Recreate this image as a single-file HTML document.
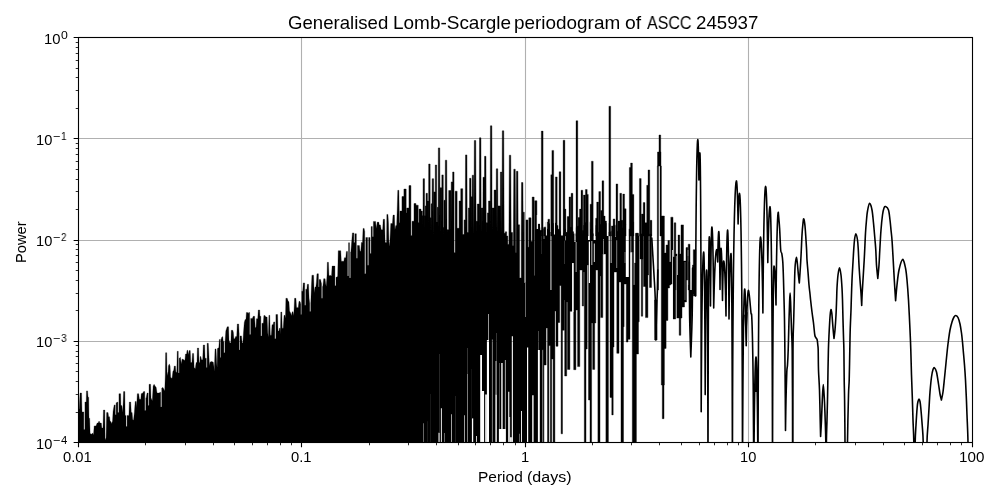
<!DOCTYPE html>
<html><head><meta charset="utf-8"><title>Generalised Lomb-Scargle periodogram</title><style>html,body{margin:0;padding:0;background:#fff}
body{width:1000px;height:500px;position:relative;overflow:hidden;font-family:"Liberation Sans",sans-serif;color:#000}
.t{position:absolute;white-space:pre;line-height:1;transform-origin:0 0;will-change:transform}
</style></head><body><svg width="1000" height="500" viewBox="0 0 1000 500" style="position:absolute;left:0;top:0"><defs><clipPath id="ax"><rect x="78.5" y="37.5" width="894" height="405"/></clipPath><mask id="gm" maskUnits="userSpaceOnUse" x="0" y="0" width="1000" height="500"><rect x="0" y="0" width="1000" height="500" fill="#fff"/><path d="M423.1 423.3H423.9V442.5H423.1Z" fill="rgb(128,128,128)"/><path d="M427 421.2H427.6V442.5H427Z" fill="rgb(217,217,217)"/><path d="M430.2 393.9H430.8V442.5H430.2Z" fill="rgb(217,217,217)"/><path d="M438.5 432.7H439.6V442.5H438.5Z" fill="rgb(0,0,0)"/><path d="M439.2 354H439.8V432.7H439.2Z" fill="rgb(191,191,191)"/><path d="M440.9 408.3H441.9V442.5H440.9Z" fill="rgb(25,25,25)"/><path d="M444.1 433H444.9V442.5H444.1Z" fill="rgb(128,128,128)"/><path d="M451 414.2H451.9V442.5H451Z" fill="rgb(77,77,77)"/><path d="M455.1 396H455.7V442.5H455.1Z" fill="rgb(204,204,204)"/><path d="M464 415.3H464.9V442.5H464Z" fill="rgb(77,77,77)"/><path d="M467.1 348H467.9V374H467.1Z" fill="rgb(191,191,191)"/><path d="M467.1 374H467.9V442.5H467.1Z" fill="rgb(102,102,102)"/><path d="M471.9 418.4H473.2V442.5H471.9Z" fill="rgb(0,0,0)"/><path d="M471.2 369H471.7V418H471.2Z" fill="rgb(217,217,217)"/><path d="M476 436H476.8V442.5H476Z" fill="rgb(0,0,0)"/><path d="M480.2 355H482V442.5H480.2Z" fill="rgb(0,0,0)"/><path d="M482 391H484.1V442.5H482Z" fill="rgb(0,0,0)"/><path d="M485.2 394.6H486.9V442.5H485.2Z" fill="rgb(0,0,0)"/><path d="M486.9 340H489V442.5H486.9Z" fill="rgb(0,0,0)"/><path d="M488.2 314H488.8V340H488.2Z" fill="rgb(0,0,0)"/><path d="M491.9 339.4H492.8V442.5H491.9Z" fill="rgb(115,115,115)"/><path d="M495.4 361H496.8V394.6H495.4Z" fill="rgb(102,102,102)"/><path d="M495.4 394.6H496.8V442.5H495.4Z" fill="rgb(0,0,0)"/><path d="M496.3 333H496.9V361H496.3Z" fill="rgb(166,166,166)"/><path d="M499.4 363H500V429H499.4Z" fill="rgb(128,128,128)"/><path d="M501.1 363H502.8V429H501.1Z" fill="rgb(51,51,51)"/><path d="M504.9 360H505.7V429H504.9Z" fill="rgb(51,51,51)"/><path d="M498.9 429H505.9V442.5H498.9Z" fill="rgb(0,0,0)"/><path d="M508.2 391.8H509.3V442.5H508.2Z" fill="rgb(0,0,0)"/><path d="M509.3 417H510.1V442.5H509.3Z" fill="rgb(0,0,0)"/><path d="M510.1 437.3H511.8V442.5H510.1Z" fill="rgb(0,0,0)"/><path d="M511.8 336.3H512.9V442.5H511.8Z" fill="rgb(0,0,0)"/><path d="M519.1 433.8H519.9V442.5H519.1Z" fill="rgb(128,128,128)"/><path d="M521 411.1H521.9V442.5H521Z" fill="rgb(0,0,0)"/><path d="M525 283H525.6V317H525Z" fill="rgb(0,0,0)"/><path d="M527 347.5H528.2V442.5H527Z" fill="rgb(0,0,0)"/><path d="M532.2 395.3H533.6V442.5H532.2Z" fill="rgb(0,0,0)"/><path d="M537.9 350H539.8V442.5H537.9Z" fill="rgb(0,0,0)"/><path d="M538.3 331H539V350H538.3Z" fill="rgb(153,153,153)"/><path d="M672.2 250H673V442.5H672.2Z" fill="rgb(25,25,25)"/><path d="M675.9 256H676.6V442.5H675.9Z" fill="rgb(51,51,51)"/><path d="M677 235H677.8V275H677Z" fill="rgb(51,51,51)"/><path d="M687.7 250H688.3V285H687.7Z" fill="rgb(77,77,77)"/><path d="M684.6 262H685.4V300H684.6Z" fill="rgb(128,128,128)"/><path d="M536.8 215H537.8V229H536.8Z" fill="rgb(0,0,0)"/><path d="M540 215H541V227.5H540Z" fill="rgb(0,0,0)"/><path d="M545.7 215H546.9V235.5H545.7Z" fill="rgb(0,0,0)"/><path d="M550 215H551.5V232.5H550Z" fill="rgb(0,0,0)"/><path d="M553.8 215H555V234.5H553.8Z" fill="rgb(0,0,0)"/><path d="M560.9 215H563V235.5H560.9Z" fill="rgb(0,0,0)"/><path d="M565.9 215H567.2V232H565.9Z" fill="rgb(0,0,0)"/><path d="M574.2 215H575.8V228H574.2Z" fill="rgb(0,0,0)"/><path d="M588 215H589.8V240H588Z" fill="rgb(0,0,0)"/><path d="M593.6 215H595.6V240H593.6Z" fill="rgb(0,0,0)"/><path d="M606.5 215H608.4V236H606.5Z" fill="rgb(0,0,0)"/><path d="M608.4 215H609V232H608.4Z" fill="rgb(0,0,0)"/><path d="M610.7 215H610.1V232H610.7Z" fill="rgb(0,0,0)"/><path d="M597.8 215H598.8V232.5H597.8Z" fill="rgb(128,128,128)"/><path d="M615 215H616V237H615Z" fill="rgb(128,128,128)"/><path d="M550 232H551.8V290H550Z" fill="rgb(128,128,128)"/><path d="M541.2 232H541.8V254H541.2Z" fill="rgb(191,191,191)"/><path d="M543.5 225H544.5V239H543.5Z" fill="rgb(128,128,128)"/><path d="M565 232H566V240.5H565Z" fill="rgb(128,128,128)"/><path d="M564 240.5H565V264H564Z" fill="rgb(204,204,204)"/><path d="M574.2 225H575.8V242H574.2Z" fill="rgb(77,77,77)"/><path d="M575.5 242H576.8V272H575.5Z" fill="rgb(128,128,128)"/><path d="M572 263H573.7V312H572Z" fill="rgb(77,77,77)"/><path d="M588.8 241.5H590V283H588.8Z" fill="rgb(0,0,0)"/><path d="M591 241H592.5V265H591Z" fill="rgb(128,128,128)"/><path d="M593.8 243.5H595V262H593.8Z" fill="rgb(77,77,77)"/><path d="M603 239H604V254H603Z" fill="rgb(128,128,128)"/><path d="M610.5 225H612V263H610.5Z" fill="rgb(128,128,128)"/><path d="M616.2 240H617.2V268H616.2Z" fill="rgb(128,128,128)"/><path d="M624.5 252H625.5V263H624.5Z" fill="rgb(153,153,153)"/><path d="M625.8 225H628.8V277H625.8Z" fill="rgb(0,0,0)"/><path d="M630 225H631.5V252H630Z" fill="rgb(153,153,153)"/></mask></defs><rect x="0" y="0" width="1000" height="500" fill="#fff"/><path d="M301.5 37.5V442.5M525.5 37.5V442.5M748.5 37.5V442.5M78.5 138.5H972.5M78.5 240.5H972.5M78.5 341.5H972.5" stroke="#b0b0b0" stroke-width="1.11" fill="none"/><g clip-path="url(#ax)"><path d="M78.5 444.5L78.08 409.1L79.2 409.1L80.04 393L81.58 393L82 411.9L83.68 411.9L83.83 411.9L83.83 429.4L84.93 429.4L84.93 402.1L85.08 402.1L86.2 402.1L86.48 390.9L87.6 390.9L88.02 397.2L88.72 397.2L89 418.2L89.7 418.2L90.12 433.6L91.52 434.3L92.64 432.9L93.48 435L94.18 425.9L96 425.9L97.12 423.1L98.1 423.1L99.08 421L99.92 423.1L101.32 423.1L101.88 428L103 428L103.42 410.08L104.82 410.08L105.1 439.9L106.08 437.8L106.64 412.6L108.04 412.6L108.6 416.8L109.58 416.8L110 421L110.98 421.7L111.68 423.8L112.52 421L113.08 411.2L114.2 404.9L115.18 404.9L115.23 404.9L115.23 414.7L116.15 414.7L116.15 402.8L116.3 402.8L117.7 402.1L117.85 402.1L117.85 412.6L118.95 412.6L118.95 393.7L119.1 393.7L120.64 393.7L120.92 405.6L121.9 405.6L122.32 412.6L123.02 405.6L123.58 391.6L124.84 391.6L125.12 415.4L125.96 415.4L126.01 415.4L126.01 426.6L127.07 426.6L127.07 415.4L127.22 415.4L128.9 415.4L129.32 402.1L130.72 402.1L131.28 412.6L132.12 412.6L132.68 419.6L133.52 420.3L134.36 412.6L135.2 401.4L136.18 401.4L136.6 407.7L137.3 393.7L138.7 393.7L139.4 399.3L140.8 399.3L141.22 393.7L142.9 393L143.6 391.6L144.72 391.6L144.77 391.6L144.77 410.5L145.83 410.5L145.83 397.9L146.12 397.9L147.1 393L148.08 393L148.13 393L148.13 405.6L149.05 405.6L149.05 384.32L149.2 384.32L150.6 384.32L151.02 397.9L152.28 400.7L153.12 386L154.1 384.32L155.08 386L156.2 387.4L157.04 393L159 393L160.4 392.3L160.69 392.3L160.69 407L161.75 407L161.75 388.1L161.8 388.1L162.92 387.4L164.04 389.5L164.74 390.9L165.3 374.8L165.6 352.7L166.72 352.7L167 371.6L167.84 375.8L168.4 366L169.24 363.9L170.08 366L170.64 377.2L172.04 378.6L172.88 371.6L173.72 370.2L174.28 366L175.4 366L175.96 372.3L176.8 372.3L177.22 351.3L178.2 351.3L178.25 351.3L178.25 373L179.17 373L179.17 358.3L179.32 358.3L180.44 357.32L181.28 363.9L182.12 359L183.8 359.7L184.92 360.4L185.48 354.1L186.6 354.1L187.02 350.32L187.72 350.32L188.42 354.8L189.12 350.6L190.24 350.6L190.8 362.5L191.92 362.5L192.48 353.4L193.6 353.4L194.16 367.4L195.28 368.8L196.12 362.5L196.96 362.5L197.38 348.08L198.64 348.08L199.06 362.5L199.76 362.5L200.18 356.62L200.88 356.62L201.44 359.7L202.7 359.7L203.26 345L204.66 345L205.08 358.3L206.2 358.3L206.25 358.3L206.25 367.4L207.13 367.4L207.13 343.32L207.18 343.32L208.3 343.32L208.72 350.6L209.42 366L209.98 362.5L210.96 361.52L213.2 362.08L213.9 366L214.32 371.6L215.02 348.92L216 348.92L216.7 363.2L217.12 367.4L217.4 348.5L218.8 347.8L219.36 339.4L220.2 339.4L220.25 339.4L220.25 357.6L220.99 357.6L220.99 339.4L221.04 339.4L221.74 337.3L222.72 336.6L223.28 341.5L223.84 341.5L223.89 341.5L223.89 352.7L224.95 352.7L224.95 341.5L225.1 341.5L225.8 331L227.2 326.8L228.6 326.8L229.02 340.1L230 342.9L230.84 342.9L231.26 330.3L232.8 330.3L233.36 332.4L233.92 338.7L234.9 338.7L235.6 336.6L236.72 336.6L237.28 324L238.68 324L239.1 333.1L239.15 333.1L239.15 349.9L240.03 349.9L240.03 335.9L240.08 335.9L241.48 335.9L242.18 342.9L242.88 342.9L243.44 333.1L244.28 322.6L245.12 319.52L245.96 319.52L246.38 312.52L247.64 312.52L248.2 313.5L248.76 312.52L249.6 312.52L249.65 312.52L249.65 334.5L250.71 334.5L250.71 318.4L251 318.4L252.4 318.4L253.24 316.3L254.64 316.3L255.2 327.5L256.04 327.5L256.46 318.68L257.72 318.68L258.28 310L259.68 310L259.96 316.3L260.8 316.3L260.85 316.3L260.85 335.9L261.91 335.9L261.91 323.3L262.2 323.3L263.32 323.3L263.88 315.6L265 315.6L265.84 317L267.1 317L267.8 333.1L268.36 337.3L268.92 315.32L269.76 315.32L270.32 335.2L271.3 335.2L272 324.7L273.12 324.7L273.68 321.9L274.52 321.9L274.81 321.9L274.81 338.7L275.91 338.7L275.91 314.48L276.2 314.48L277.6 314.48L278.02 331L279 331L279.42 328.2L280.12 328.2L280.4 334.5L280.82 312.1L281.8 312.1L282.22 328.2L283.2 328.2L284.04 315.32L284.88 315.32L285.44 318.4L285.88 298.3L287.28 298.3L288.12 301.1L288.96 301.8L289.52 310.9L290.64 313L291.48 315.8L292.04 312.3L292.88 311.6L293.44 315.8L294 310.9L294.56 298.3L295.96 298.3L296.52 307.4L298.2 307.68L299.04 301.1L300.16 301.8L300.72 303.9L300.77 303.9L300.77 314.4L301.79 314.4L301.79 291.3L301.84 291.3L302.68 291.3L303.24 282.9L304.64 282.9L304.69 282.9L304.69 305.3L305.75 305.3L305.75 289.2L306.04 289.2L306.88 289.2L307.3 284.3L308.56 284.3L309.12 298.3L309.68 303.2L309.73 303.2L309.73 311.6L310.75 311.6L310.75 302.5L310.8 302.5L311.36 287.1L311.92 275.2L313.6 275.2L314.16 292.7L315 287.1L315.84 287.1L316.4 282.2L316.96 273.8L318.36 273.8L318.41 273.8L318.41 287.1L319.15 287.1L319.15 279.4L319.2 279.4L320.6 279.4L321.44 283.6L321.49 283.6L321.49 298.3L322.55 298.3L322.55 286.4L322.84 286.4L323.68 278.7L325.08 278.7L325.64 283.6L326.2 286.4L327.04 275.2L327.32 262.32L328.44 262.32L329 275.9L330.12 275.2L331.52 275.9L332.08 266.1L334.88 266.1L334.93 266.1L334.93 285.7L335.99 285.7L335.99 277.3L336.28 277.3L337.68 276.6L338.24 250.7L340.76 250.7L341.32 261.2L343.84 261.2L344.4 257.7L345.8 257.7L346.36 251.4L347.48 251.4L347.53 251.4L347.53 275.9L348.55 275.9L348.55 242.7L348.6 242.7L349.44 242.7L349.49 242.7L349.49 278L350.55 278L350.55 252.1L350.84 252.1L352.4 232.88L353.8 232.88L353.85 232.88L353.85 242.4L354.87 242.4L354.87 233.72L354.92 233.72L356.32 233.72L356.37 233.72L356.37 258.36L357.43 258.36L357.43 245.48L358 245.48L359.4 245.48L359.96 250.8L360.8 251.5L361.36 242.4L362.48 242.4L363.04 228.4L364.16 228.4L364.58 231.2L364.73 231.2L364.73 273.76L365.83 273.76L365.83 237.5L366.12 237.5L367.52 237.5L367.57 237.5L367.57 265.36L368.63 265.36L368.63 237.5L368.92 237.5L370.04 237.5L370.09 237.5L370.09 253.46L371.11 253.46L371.11 226.58L371.16 226.58L372.28 226.58L372.33 226.58L372.33 236.8L373.39 236.8L373.39 221.4L373.96 221.4L375.64 221.4L376.2 228.4L377.32 222.1L378.72 222.1L379.28 224.9L380.4 224.9L381.24 229.8L382.64 229.8L383.2 219.3L384.6 219.3L385.16 242.4L386.56 242.4L386.84 214.4L387.96 214.4L388.52 223.5L389.08 246.6L389.92 241L390.76 223.5L392.44 223.5L393 215.1L394.4 215.1L394.96 229.8L395.8 225.6L396.64 225.6L397.2 209.5L397.76 190.32L398.88 190.32L399.44 222.8L400.8 222.8L400.8 444.5Z" fill="#000" stroke="#000" stroke-width="0.3" stroke-linejoin="miter"/><path d="M400 211.08H401.96V444.5H400ZM401.96 196.52H403.92V444.5H401.96ZM403.92 189.1H406.16V444.5H403.92ZM406.16 212.9H406.72V444.5H406.16ZM406.72 208H408.96V444.5H406.72ZM408.96 185.6H410.92V444.5H408.96ZM410.92 235.72H412.04V444.5H410.92ZM412.04 221.3H414V444.5H412.04ZM414 203.52H415.96V444.5H414ZM415.96 205.2H418.2V444.5H415.96ZM418.2 222.7H419.04V444.5H418.2ZM419.04 209.12H421V444.5H419.04ZM421 211.08H422.4V444.5H421ZM422.4 215.7H422.96V444.5H422.4ZM424.64 215.7H425.2V444.5H424.64ZM425.2 205.9H426.04V444.5H425.2ZM426.04 193.3H427.44V444.5H426.04ZM427.44 201H428.56V444.5H427.44ZM430.24 217.8H431.08V444.5H430.24ZM431.08 203.8H431.92V444.5H431.08ZM433.88 191.9H435.28V444.5H433.88ZM436.68 222H437.24V444.5H436.68ZM437.24 207.3H438.08V444.5H437.24ZM440.04 187.7H441.72V444.5H440.04ZM443.4 227.6H443.96V444.5H443.4ZM443.96 200.3H445.08V444.5H443.96ZM447.04 229.7H448.72V444.5H447.04ZM448.72 190.5H450.96V444.5H448.72ZM454.04 252.8H455.16V444.5H454.04ZM455.16 191.2H457.12V444.5H455.16ZM457.12 228.3H459.08V444.5H457.12ZM459.08 201H460.76V444.5H459.08ZM460.76 188.68H462.72V444.5H460.76ZM462.72 234.6H464.12V444.5H462.72ZM464.12 219.9H465.24V444.5H464.12ZM467.2 232.5H468.32V444.5H467.2ZM468.32 208H469.44V444.5H468.32ZM471.12 196.8H472.24V444.5H471.12ZM476.16 221.3H477.28V444.5H476.16ZM477.28 204.08H479.24V444.5H477.28ZM481.2 208H482.88V444.5H481.2ZM486.24 222.7H487.36V444.5H486.24ZM487.36 212.9H488.48V444.5H487.36ZM488.48 201H490.16V444.5H488.48ZM492.12 208H494.08V444.5H492.12ZM494.08 190.08H496.04V444.5H494.08ZM498 205.9H500.24V444.5H498ZM504.16 233.2H505.28V444.5H504.16ZM505.28 231.8H506.68V444.5H505.28ZM506.68 236H507.8V444.5H506.68ZM507.8 244.4H508.92V444.5H507.8ZM511.16 232.5H512.56V444.5H511.16ZM512.56 245.8H513.4V444.5H512.56ZM515.64 252.8H516.2V444.5H515.64ZM518.16 224.8H519.56V444.5H518.16ZM519.56 278H521.24V444.5H519.56ZM523.2 212.2H524.32V444.5H523.2ZM526 219.9H527.96V444.5H526ZM527.96 247.2H528.8V444.5H527.96ZM528.8 217.8H531.04V444.5H528.8ZM531.04 241.6H532.16V444.5H531.04ZM532.16 197.08H534.12V444.5H532.16ZM534.12 275.8H534.68V444.5H534.12ZM534.68 200.72H536.92V444.5H534.68ZM536.92 229H538.04V444.5H536.92ZM538.04 224.1H540V444.5H538.04ZM524.3 283H526V444.5H524.3ZM423.08 178.7L424.52 178.7L424.64 235V444.5H422.96V235ZM428.68 164L430.12 164L430.24 235V444.5H428.56V235ZM432.18 178.7L433.62 178.7L433.88 235V444.5H431.92V235ZM435.28 165L436.68 165L436.68 235V444.5H435.28V235ZM438.34 147.9L439.78 147.9L440.04 235V444.5H438.08V235ZM441.84 174.9L443.28 174.9L443.4 235V444.5H441.72V235ZM445.34 160.2L446.78 160.2L447.04 235V444.5H445.08V235ZM451.22 181.9L452.66 181.9L452.92 235V444.5H450.96V235ZM452.64 172L454.04 172L454.04 235V444.5H452.64V235ZM465.5 154.9L466.94 154.9L467.2 235V444.5H465.24V235ZM469.56 178.3L471 178.3L471.12 235V444.5H469.44V235ZM472.22 175.2L473.66 175.2L473.92 235V444.5H471.96V235ZM474.32 140.5L475.76 140.5L476.16 235V444.5H473.92V235ZM479.5 137.8L480.94 137.8L481.2 235V444.5H479.24V235ZM483 177.3L484.44 177.3L484.56 235V444.5H482.88V235ZM484.54 156.3L485.98 156.3L486.24 235V444.5H484.28V235ZM490.42 125.8L491.86 125.8L492.12 235V444.5H490.16V235ZM496.3 168.8L497.74 168.8L498 235V444.5H496.04V235ZM500.36 172.1L501.8 172.1L501.92 235V444.5H500.24V235ZM502.32 130.8L503.76 130.8L504.16 235V444.5H501.92V235ZM509.32 155.2L510.76 155.2L511.16 235V444.5H508.92V235ZM513.8 169.2L515.24 169.2L515.64 235V444.5H513.4V235ZM516.46 171.3L517.9 171.3L518.16 235V444.5H516.2V235ZM521.5 182.5L522.94 182.5L523.2 235V444.5H521.24V235ZM539.8 230.3H542.3V442.5H539.8ZM542.3 227.58H543.2V349.8H542.3ZM543.2 228.94H544V442.5H543.2ZM544 226.9H546.1V365H544ZM546.1 222.06H547.5V328H546.1ZM547.5 228.92H548.9V442.5H547.5ZM548.9 223.79H550.3V345.6H548.9ZM550.3 230.65H551.7V442.5H550.3ZM551.7 228.38H553.1V359H551.7ZM553.1 223.25H554.9V442.5H553.1ZM554.9 223.09H556V311H554.9ZM556 225.5H558V346.3H556ZM558 229.27H559.7V322.5H558ZM559.7 231.46H561.1V285.5H559.7ZM561.1 226.32H562.5V433.8H561.1ZM562.5 233.18H564.3V330.2H562.5ZM564.3 233.03H564.7V300H564.3ZM564.7 228.88H566.7V376H564.7ZM566.7 232.64H567.5V302H566.7ZM567.5 230.6H569.9V369.4H567.5ZM569.9 227.35H572V311.3H569.9ZM572 231.65H573.7V263H572ZM573.7 233.83H575.9V369.7H573.7ZM575.9 226.66H577.6V310H575.9ZM577.6 225.97H579.8V366.6H577.6ZM579.8 233.66H582.2V270H579.8ZM582.2 230.41H583.6V306H582.2ZM583.6 225.28H584.3V272H583.6ZM584.3 222.71H586V442.5H584.3ZM586 222.02H587.2V349H586ZM587.2 227.83H588.5V265H587.2ZM588.5 222.17H590V400H588.5ZM590 229.56H591.6V442.5H590ZM591.6 228.35H592.7V323H591.6ZM592.7 233.63H594.7V369.4H592.7ZM594.7 225.4H595.8V323H594.7ZM595.8 227.81H597.9V270H595.8ZM597.9 232.1H600V442.5H597.9ZM600 224.4H600.7V276H600ZM600.7 224.7H602.8V317.6H600.7ZM602.8 229H605.9V254H602.8ZM605.9 223.18H608.4V442.5H605.9ZM610 231.24H612V397.4H610ZM611.8 233.95H613.2V414.9H611.8ZM613.2 228.82H614V347H613.2ZM613.7 225.19H616.8V272H613.7ZM616.8 231.37H619V353.3H616.8ZM619 224.2H621V282H619ZM621 227.96H623.5V442.5H621ZM623.5 228.11H624.1V326.7H623.5ZM624.1 225.01H626.3V284H624.1ZM626.3 229.84H628V342H626.3ZM628 229.15H630V339.3H628ZM630 232.92H633.3V252H630ZM632.3 222H633.6V442.5H632.3ZM633.6 285H634.6V442.5H633.6ZM634.6 263H635.5V442.5H634.6ZM635.5 233.3H636.4V442.5H635.5ZM636.4 233.3H638.5V354H636.4ZM637.5 236H639.2V321.8H637.5ZM640 234H643V259H640ZM641.3 234H642.7V316.2H641.3ZM643.5 234H646V286.5H643.5ZM645.5 234H647.9V317.6H645.5ZM647.9 234H648.5V275H647.9ZM649.5 234H651.5V287.5H649.5ZM654.6 300H657.1V340H654.6ZM659 135H660.7V152H659ZM657.5 152H661V166H657.5ZM657.3 166H658.5V290H657.3ZM660 166H661.4V236H660ZM661.3 216H664.4V385H661.3ZM662.3 385H664V418.7H662.3ZM664.4 253H666.1V348.4H664.4ZM666.1 245H667.9V320.4H666.1ZM667.9 240.5H669.5V288H667.9ZM669.5 262H670.8V285H669.5ZM670.8 217.2H673V284H670.8ZM673 257H674.2V319H673ZM674.2 222.8H675.8V319H674.2ZM675.8 254H676.5V290H675.8ZM676.5 254H677.8V318H676.5ZM677.8 235.1H679.8V318H677.8ZM679.8 254H682V318H679.8ZM679.2 318H680.8V335.3H679.2ZM681 224.9H683.5V307H681ZM683.5 261H684.5V307H683.5ZM684.5 261H686.5V302H684.5ZM686 247.6H687.8V280H686ZM687.8 256H688.4V280H687.8ZM688.2 244.2H690V290H688.2ZM692.5 265H693.6V294H692.5ZM693.3 249.7H696V296H693.3Z" fill="#000" stroke="#000" stroke-width="0.4" stroke-linejoin="miter" mask="url(#gm)"/><path d="M541.3 131.1H543.1V236H541.3ZM543.8 227.7H545.6V236H543.8ZM547.9 219.2H549.7V236H547.9ZM550.8 174.8H552.6V236H550.8ZM551.9 150.4H553.7V236H551.9ZM555.4 176.9H557.2V236H555.4ZM559.1 171.7H560.9V236H559.1ZM563.1 140.2H564.9V236H563.1ZM564.1 209.1H565.9V236H564.1ZM567.2 216.5H569V236H567.2ZM569 196.9H570.8V236H569ZM571.1 193.3H572.9V236H571.1ZM576 120.7H577.8V236H576ZM578.1 217.5H579.9V236H578.1ZM579.5 209.1H581.3V236H579.5ZM581 190.2H582.8V236H581ZM583.4 195.1H585.2V236H583.4ZM585.4 189.5H587.2V236H585.4ZM586.5 194.4H588.3V236H586.5ZM590.1 204.2H591.9V236H590.1ZM591.4 161.2H593.2V236H591.4ZM595.6 218.2H597.4V236H595.6ZM596.7 202.1H598.5V236H596.7ZM598.8 191.6H600.6V236H598.8ZM600.8 210.5H602.6V236H600.8ZM602 180.8H603.8V236H602ZM603.3 216.1H605.1V236H603.3ZM604.7 221H606.5V236H604.7ZM608.9 106.3H610.7V236H608.9ZM611.4 225.9H613.2V236H611.4ZM613.1 218.9H614.9V236H613.1ZM616 183.9H617.8V236H616ZM618 221H619.8V236H618ZM619.8 193.3H621.6V236H619.8ZM620.9 220.3H622.7V236H620.9ZM622.8 194.1H624.6V236H622.8ZM624.3 208.7H626.1V236H624.3ZM629.3 167.5H631.1V236H629.3ZM630.6 163H632.4V236H630.6ZM632.1 194.4H633.9V236H632.1ZM636.2 233.3H638V236H636.2ZM639.4 178.6H641.2V236H639.4ZM641.5 214H643.3V236H641.5ZM643.2 202.5H645V236H643.2ZM645 222.7H646.8V236H645ZM646.7 185.3H648.5V236H646.7ZM648 169.9H649.8V236H648ZM650.1 220.3H651.9V236H650.1Z" fill="#000" stroke="#000" stroke-width="0.3"/><path d="M689.3 290L692.4 290L690.8 357ZM744.2 315L747.6 312L746.2 345.8ZM755 392L755.3 366L756 357L756.8 366L757.2 392Z" fill="#000" stroke="none"/><path d="M695.6 296L695.63 288.2L695.7 273.99L695.79 257.36L695.9 240.17L696.02 223.4L696.17 207.58L696.33 193.01L696.5 179.9L696.68 168.37L696.88 158.56L697.1 150.61L697.32 144.66L697.55 140.91L697.8 139.6L697.92 140.06L698.04 141.36L698.15 143.4L698.26 146.06L698.36 149.25L698.45 152.85L698.54 156.76L698.62 160.86L698.69 165L698.75 169.06L698.81 172.84L698.85 176.14L698.88 178.7L698.9 180L698.91 179.16L698.94 177.5L698.99 175.34L699.03 172.85L699.09 170.16L699.16 167.39L699.23 164.64L699.31 161.99L699.39 159.54L699.48 157.35L699.58 155.52L699.68 154.12L699.79 153.22L699.9 152.9L700.05 154.54L700.18 159.22L700.32 166.7L700.44 176.8L700.56 189.41L700.67 204.52L700.77 222.15L700.86 242.43L700.95 265.59L701.02 291.92L701.09 321.74L701.14 354.94L701.18 389.11L701.2 411.7M701.2 411.7L701.24 403.61L701.31 388.92L701.41 371.81L701.54 354.2L701.68 337.07L701.84 320.95L702.02 306.14L702.22 292.82L702.43 281.13L702.66 271.2L702.9 263.14L703.15 257.12L703.42 253.33L703.7 252L703.87 253.24L704.03 256.79L704.18 262.41L704.32 269.92L704.46 279.15L704.59 289.95L704.71 302.19L704.81 315.7L704.91 330.24L705 345.5L705.07 360.93L705.13 375.61L705.18 387.93L705.2 394.6L705.22 389.22L705.26 379.11L705.32 366.81L705.39 353.63L705.47 340.38L705.56 327.57L705.66 315.55L705.77 304.55L705.89 294.78L706.02 286.39L706.15 279.54L706.29 274.39L706.44 271.14L706.6 270L706.76 271.52L706.91 275.86L707.05 282.78L707.18 292.09L707.31 303.66L707.43 317.41L707.54 333.32L707.64 351.35L707.73 371.52L707.81 393.77L707.88 417.84L707.94 442.86L707.98 466.17L708 480M708 480L708.02 460.64L708.06 430.19L708.11 399.6L708.18 371.52L708.25 346.38L708.34 324.08L708.43 304.42L708.53 287.27L708.64 272.54L708.76 260.2L708.88 250.32L709.02 243L709.15 238.4L709.3 236.8L709.43 237.53L709.56 239.61L709.68 242.88L709.8 247.19L709.91 252.39L710.01 258.33L710.1 264.87L710.19 271.81L710.27 278.97L710.34 286.08L710.4 292.83L710.45 298.85L710.48 303.57L710.5 306L710.52 303.13L710.56 297.59L710.62 290.57L710.69 282.75L710.77 274.57L710.86 266.4L710.96 258.5L711.07 251.12L711.19 244.43L711.32 238.6L711.45 233.78L711.59 230.14L711.74 227.82L711.9 227L712.1 227.83L712.29 230.2L712.48 233.92L712.65 238.84L712.81 244.79L712.96 251.63L713.11 259.19L713.24 267.27L713.35 275.65L713.46 284.05L713.55 292.1L713.62 299.32L713.67 305.04L713.7 308L713.74 306.02L713.83 302.16L713.96 297.21L714.1 291.61L714.28 285.67L714.47 279.66L714.69 273.78L714.93 268.22L715.18 263.13L715.45 258.67L715.74 254.96L716.04 252.14L716.36 250.33L716.7 249.7L716.81 249.85L716.92 250.27L717.02 250.93L717.12 251.78L717.21 252.79L717.29 253.92L717.37 255.14L717.44 256.39L717.51 257.64L717.57 258.84L717.61 259.95L717.66 260.9L717.69 261.63L717.7 262L717.72 261.05L717.75 259.17L717.79 256.73L717.85 253.93L717.91 250.9L717.98 247.79L718.06 244.7L718.15 241.74L718.24 239L718.34 236.56L718.45 234.52L718.56 232.96L718.68 231.95L718.8 231.6L718.93 232.23L719.06 234.02L719.18 236.83L719.3 240.52L719.41 244.95L719.51 250L719.6 255.53L719.69 261.37L719.77 267.34L719.84 273.24L719.9 278.8L719.95 283.71L719.98 287.54L720 289.5L720.01 288.17L720.04 285.56L720.09 282.18L720.13 278.32L720.19 274.19L720.26 269.95L720.33 265.78L720.41 261.79L720.49 258.12L720.58 254.88L720.68 252.16L720.78 250.09L720.89 248.77L721 248.3L721.17 248.88L721.33 250.51L721.48 253.08L721.62 256.44L721.76 260.48L721.89 265.07L722.01 270.07L722.11 275.35L722.21 280.72L722.3 286.01L722.37 290.98L722.43 295.36L722.48 298.76L722.5 300.5L722.52 299.23L722.55 296.74L722.6 293.51L722.66 289.82L722.73 285.86L722.81 281.81L722.9 277.8L722.99 273.98L723.09 270.45L723.2 267.33L723.32 264.72L723.44 262.73L723.57 261.45L723.7 261L723.96 261.6L724.2 263.32L724.44 266L724.66 269.52L724.87 273.76L725.06 278.58L725.24 283.84L725.41 289.39L725.56 295.06L725.69 300.64L725.8 305.91L725.9 310.54L725.97 314.15L726 316L726.02 312.81L726.07 306.65L726.14 298.91L726.22 290.31L726.31 281.37L726.41 272.48L726.53 263.94L726.65 255.97L726.79 248.77L726.93 242.51L727.09 237.35L727.25 233.45L727.42 230.97L727.6 230.1L727.76 231L727.91 233.54L728.05 237.55L728.18 242.85L728.31 249.29L728.43 256.71L728.54 264.93L728.64 273.76L728.73 282.95L728.81 292.22L728.88 301.16L728.94 309.23L728.98 315.66L729 319L729.03 316.73L729.09 312.32L729.17 306.68L729.27 300.33L729.39 293.63L729.52 286.87L729.66 280.3L729.82 274.1L729.99 268.45L730.17 263.5L730.36 259.4L730.56 256.29L730.78 254.3L731 253.6L731.16 255.16L731.31 259.64L731.45 266.78L731.58 276.39L731.71 288.36L731.83 302.64L731.94 319.2L732.04 338.08L732.13 359.36L732.21 383.09L732.28 409.19L732.34 436.95L732.38 463.64L732.4 480M732.4 480L732.46 446.83L732.58 402.2L732.74 362.57L732.94 328.79L733.17 299.89L733.43 274.96L733.72 253.39L734.03 234.79L734.37 218.95L734.73 205.76L735.12 195.24L735.53 187.47L735.95 182.6L736.4 180.9L736.59 181.39L736.77 182.76L736.94 184.92L737.11 187.74L737.26 191.12L737.41 194.94L737.54 199.09L737.66 203.45L737.77 207.87L737.87 212.19L737.96 216.23L738.02 219.77L738.08 222.51L738.1 223.9L738.12 222.94L738.16 221.06L738.22 218.61L738.29 215.8L738.37 212.77L738.46 209.64L738.56 206.55L738.67 203.57L738.79 200.82L738.92 198.38L739.05 196.33L739.19 194.76L739.34 193.76L739.5 193.4L739.84 195.08L740.16 199.9L740.46 207.6L740.75 218.01L741.02 231.03L741.27 246.68L741.51 265.02L741.73 286.24L741.92 310.68L742.1 338.86L742.24 371.5L742.37 409.21L742.46 450.49L742.5 480M742.5 480L742.53 468.65L742.6 448.91L742.69 426.99L742.8 405.33L742.92 384.93L743.07 366.18L743.23 349.26L743.4 334.23L743.58 321.16L743.78 310.13L744 301.24L744.22 294.62L744.45 290.46L744.7 289L744.87 289.62L745.03 291.38L745.18 294.14L745.32 297.77L745.46 302.13L745.59 307.09L745.71 312.52L745.81 318.25L745.91 324.1L746 329.88L746.07 335.33L746.13 340.13L746.18 343.88L746.2 345.8M753.8 480L753.83 474.72L753.9 464.8L753.99 452.7L754.1 439.72L754.22 426.65L754.37 414L754.53 402.11L754.7 391.23L754.88 381.55L755.08 373.24L755.3 366.45L755.52 361.36L755.75 358.13L756 357L756.22 358.13L756.44 361.36L756.64 366.45L756.83 373.24L757.01 381.55L757.18 391.23L757.34 402.11L757.48 414L757.61 426.65L757.73 439.72L757.83 452.7L757.91 464.8L757.97 474.72L758 480M758 480L758.04 460.69L758.11 430.31L758.21 399.78L758.34 371.73L758.48 346.62L758.64 324.33L758.82 304.69L759.02 287.55L759.23 272.82L759.46 260.49L759.7 250.62L759.95 243.3L760.22 238.7L760.5 237.1L760.77 237.89L761.02 240.14L761.27 243.67L761.5 248.32L761.72 253.96L761.92 260.42L762.11 267.53L762.28 275.13L762.44 282.98L762.58 290.82L762.7 298.3L762.79 305L762.86 310.28L762.9 313L762.94 307.49L763.02 297.14L763.13 284.59L763.26 271.16L763.42 257.69L763.6 244.68L763.79 232.49L764 221.35L764.23 211.46L764.48 202.97L764.74 196.04L765.01 190.84L765.3 187.55L765.6 186.4L765.85 187.19L766.08 189.45L766.3 192.99L766.52 197.66L766.72 203.31L766.9 209.79L767.07 216.94L767.23 224.56L767.38 232.44L767.5 240.31L767.61 247.83L767.7 254.56L767.77 259.86L767.8 262.6L767.83 260.72L767.9 257.04L767.99 252.32L768.1 246.96L768.22 241.28L768.37 235.52L768.53 229.88L768.7 224.53L768.88 219.64L769.08 215.35L769.3 211.77L769.52 209.05L769.75 207.31L770 206.7L770.28 208.36L770.55 213.12L770.8 220.72L771.04 230.99L771.27 243.84L771.48 259.24L771.68 277.26L771.86 298.06L772.02 321.92L772.16 349.26L772.29 380.6L772.39 416.19L772.46 454L772.5 480M772.5 480L772.52 465.59L772.57 441.48L772.63 415.8L772.7 391.22L772.79 368.6L772.89 348.15L772.99 329.9L773.11 313.83L773.24 299.94L773.38 288.27L773.52 278.88L773.67 271.91L773.83 267.53L774 266L774.22 266.45L774.44 267.71L774.64 269.68L774.83 272.25L775.01 275.34L775.18 278.82L775.34 282.6L775.48 286.56L775.61 290.56L775.73 294.46L775.83 298.11L775.91 301.29L775.97 303.75L776 305L776.03 301.47L776.1 294.69L776.2 286.2L776.31 276.83L776.44 267.14L776.59 257.55L776.76 248.36L776.94 239.83L777.13 232.15L777.34 225.48L777.56 220L777.8 215.85L778.04 213.22L778.3 212.3M651.8 238C651.92 240 652.13 243.83 652.5 250C652.87 256.17 653.53 266.67 654 275C654.47 283.33 655 289.17 655.3 300C655.6 310.83 655.72 333.33 655.8 340M657.8 270C657.73 273.33 657.57 284.17 657.4 290C657.23 295.83 657.07 296.67 656.8 305C656.53 313.33 655.97 334.17 655.8 340M689.3 262C689.35 270.83 689.35 299.17 689.6 315C689.85 330.83 690.6 350 690.8 357M692.6 268C692.53 275.83 692.5 300.17 692.2 315C691.9 329.83 691.03 350 690.8 357M746.2 345.8C746.33 339.83 746.67 319.13 747 310C747.33 300.87 747.78 293.17 748.2 291C748.62 288.83 749.03 293.33 749.5 297C749.97 300.67 750.63 309.83 751 313C751.37 316.17 751.45 311.5 751.7 316C751.95 320.5 752.25 328.5 752.5 340C752.75 351.5 752.98 361.67 753.2 385C753.42 408.33 753.7 464.17 753.8 480M778.3 212.3C778.52 214.92 779.2 221.72 779.6 228C780 234.28 780.33 245.73 780.7 250C781.07 254.27 781.45 251.6 781.8 253.6C782.15 255.6 782.52 257.6 782.8 262C783.08 266.4 783.22 270.33 783.5 280C783.78 289.67 784.25 305.83 784.5 320C784.75 334.17 784.87 351.67 785 365C785.13 378.33 785.22 389.08 785.3 400C785.38 410.92 785.47 425.42 785.5 430.5M785.5 430.5C785.58 425.42 785.78 409.75 786 400C786.22 390.25 786.55 377.83 786.8 372C787.05 366.17 787.27 368.67 787.5 365C787.73 361.33 787.95 357.5 788.2 350C788.45 342.5 788.77 328 789 320C789.23 312 789.42 306.5 789.6 302C789.78 297.5 789.93 293 790.1 293C790.27 293 790.37 295.83 790.6 302C790.83 308.17 791.23 322 791.5 330C791.77 338 792.03 338.33 792.2 350C792.37 361.67 792.43 378.33 792.5 400C792.57 421.67 792.58 466.67 792.6 480M792.9 480C792.9 473.67 792.9 463.67 792.9 442C792.92 420.33 792.9 370.33 793 350C793.13 329.67 793.5 328.33 793.7 320C793.9 311.67 794.05 306.67 794.2 300C794.35 293.33 794.43 285.83 794.6 280C794.77 274.17 794.88 268.8 795.2 265C795.52 261.2 796.12 257.2 796.5 257.2C796.88 257.2 797.17 261.87 797.5 265C797.83 268.13 798.2 273 798.5 276C798.8 279 799.17 281.83 799.3 283M799.3 283C799.42 281.33 799.75 276.83 800 273C800.25 269.17 800.58 263.83 800.8 260C801.02 256.17 801.1 254.17 801.3 250C801.5 245.83 801.72 239.5 802 235C802.28 230.5 802.7 225.67 803 223C803.3 220.33 803.47 218.5 803.8 219C804.13 219.5 804.63 222.5 805 226C805.37 229.5 805.73 236 806 240C806.27 244 806.43 246.67 806.6 250C806.77 253.33 806.77 256.33 807 260C807.23 263.67 807.67 267.83 808 272C808.33 276.17 808.67 281.33 809 285C809.33 288.67 809.73 291.5 810 294C810.27 296.5 810.27 297 810.6 300C810.93 303 811.52 308.17 812 312C812.48 315.83 813.03 319.17 813.5 323C813.97 326.83 814.38 332.53 814.8 335C815.22 337.47 815.6 336.97 816 337.8C816.4 338.63 816.9 338.8 817.2 340C817.5 341.2 817.63 343.33 817.8 345C817.97 346.67 818.08 345.83 818.2 350C818.32 354.17 818.28 363.33 818.5 370C818.72 376.67 819.22 381.67 819.5 390C819.78 398.33 820.02 412.25 820.2 420C820.38 427.75 820.53 433.75 820.6 436.5M820.6 436.5C820.75 433.75 821.22 426.08 821.5 420C821.78 413.92 822 405.92 822.3 400C822.6 394.08 822.95 384.5 823.3 384.5C823.65 384.5 824.08 394.08 824.4 400C824.72 405.92 824.97 413 825.2 420C825.43 427 825.67 432 825.8 442C825.93 452 825.97 473.67 826 480M826.2 480C826.23 473.67 826.27 452 826.4 442C826.53 432 826.8 427.83 827 420C827.2 412.17 827.43 403.33 827.6 395C827.77 386.67 827.87 377.5 828 370C828.13 362.5 828.23 355.83 828.4 350C828.57 344.17 828.77 340 829 335C829.23 330 829.57 323.75 829.8 320C830.03 316.25 830.2 314.25 830.4 312.5C830.6 310.75 830.8 309.58 831 309.5C831.2 309.42 831.43 311.08 831.6 312C831.77 312.92 831.77 312.33 832 315C832.23 317.67 832.67 324.08 833 328C833.33 331.92 833.83 336.75 834 338.5M834 338.5C834.17 337.08 834.67 333.92 835 330C835.33 326.08 835.73 320 836 315C836.27 310 836.43 304.5 836.6 300C836.77 295.5 836.77 292.17 837 288C837.23 283.83 837.58 278.37 838 275C838.42 271.63 839 267.8 839.5 267.8C840 267.8 840.58 271.63 841 275C841.42 278.37 841.75 283.83 842 288C842.25 292.17 842.33 294.67 842.5 300C842.67 305.33 842.82 313.33 843 320C843.18 326.67 843.45 335 843.6 340C843.75 345 843.8 343.33 843.9 350C844 356.67 844.08 371.67 844.2 380C844.32 388.33 844.47 389.67 844.6 400C844.73 410.33 844.92 428.67 845 442C845.08 455.33 845.08 473.67 845.1 480M847.4 480C847.42 473.67 847.4 456.17 847.5 442C847.68 427.83 848.22 405.33 848.5 395C848.78 384.67 848.98 387.5 849.2 380C849.42 372.5 849.63 358.33 849.8 350C849.97 341.67 850 336.67 850.2 330C850.4 323.33 850.82 315 851 310C851.18 305 851.13 305 851.3 300C851.47 295 851.72 286.33 852 280C852.28 273.67 852.72 267 853 262C853.28 257 853.45 253.67 853.7 250C853.95 246.33 854.15 242.7 854.5 240C854.85 237.3 855.3 233.8 855.8 233.8C856.3 233.8 857.08 237.3 857.5 240C857.92 242.7 858.05 245.83 858.3 250C858.55 254.17 858.72 260 859 265C859.28 270 859.67 275.33 860 280C860.33 284.67 860.72 288.75 861 293C861.28 297.25 861.58 303.42 861.7 305.5M861.7 305.5C861.78 303.42 861.93 298.08 862.2 293C862.47 287.92 862.97 280.5 863.3 275C863.63 269.5 863.95 264.5 864.2 260C864.45 255.5 864.58 252.5 864.8 248C865.02 243.5 865.22 237.67 865.5 233C865.78 228.33 866.17 223.67 866.5 220C866.83 216.33 866.98 213.8 867.5 211C868.02 208.2 868.85 203.37 869.6 203.2C870.35 203.03 871.35 206.7 872 210C872.65 213.3 873 218 873.5 223C874 228 874.62 235.5 875 240C875.38 244.5 875.55 245.83 875.8 250C876.05 254.17 876.17 260.25 876.5 265C876.83 269.75 877.58 276.25 877.8 278.5M877.8 278.5C878 276.25 878.67 269.75 879 265C879.33 260.25 879.47 255.83 879.8 250C880.13 244.17 880.55 235.83 881 230C881.45 224.17 882 218.67 882.5 215C883 211.33 883.48 209.4 884 208C884.52 206.6 884.85 206.27 885.6 206.6C886.35 206.93 887.77 207.77 888.5 210C889.23 212.23 889.58 216.67 890 220C890.42 223.33 890.67 226.67 891 230C891.33 233.33 891.63 235 892 240C892.37 245 892.82 253.33 893.2 260C893.58 266.67 893.9 273.23 894.3 280C894.7 286.77 895.38 297.17 895.6 300.6M895.6 300.6C895.83 298 896.43 290.1 897 285C897.57 279.9 898.07 274.27 899 270C899.93 265.73 901.52 259.73 902.6 259.4C903.68 259.07 904.77 264.57 905.5 268C906.23 271.43 906.5 274.67 907 280C907.5 285.33 908 291.67 908.5 300C909 308.33 909.62 321.67 910 330C910.38 338.33 910.55 342.5 910.8 350C911.05 357.5 911.25 367.17 911.5 375C911.75 382.83 912.05 389.5 912.3 397C912.55 404.5 912.75 412.5 913 420C913.25 427.5 913.63 432 913.8 442C913.97 452 913.97 473.67 914 480M915 480C915.03 473.67 915.03 451.17 915.2 442C915.37 432.83 915.67 430.83 916 425C916.33 419.17 916.87 410.92 917.2 407C917.53 403.08 917.7 402.83 918 401.5C918.3 400.17 918.67 399 919 399C919.33 399 919.7 400 920 401.5C920.3 403 920.43 404.08 920.8 408C921.17 411.92 921.8 419.33 922.2 425C922.6 430.67 923 432.83 923.2 442C923.4 451.17 923.37 473.67 923.4 480M926.8 480C926.83 473.67 926.8 451.17 927 442C927.2 432.83 927.63 431.17 928 425C928.37 418.83 928.87 410.5 929.2 405C929.53 399.5 929.62 396.67 930 392C930.38 387.33 931 380.75 931.5 377C932 373.25 932.5 371.03 933 369.5C933.5 367.97 933.92 367.38 934.5 367.8C935.08 368.22 935.83 369.3 936.5 372C937.17 374.7 937.92 380.33 938.5 384C939.08 387.67 939.52 391.33 940 394C940.48 396.67 941.17 399 941.4 400M941.4 400C941.67 398.67 942.48 395.67 943 392C943.52 388.33 944 382.83 944.5 378C945 373.17 945.53 367.67 946 363C946.47 358.33 946.88 353.83 947.3 350C947.72 346.17 948.05 343.33 948.5 340C948.95 336.67 949.42 333 950 330C950.58 327 951.33 324.17 952 322C952.67 319.83 953.37 318.08 954 317C954.63 315.92 955.13 315.42 955.8 315.5C956.47 315.58 957.3 316.08 958 317.5C958.7 318.92 959.42 321.42 960 324C960.58 326.58 961.08 330 961.5 333C961.92 336 962.22 339.17 962.5 342C962.78 344.83 962.87 346.17 963.2 350C963.53 353.83 964.12 360 964.5 365C964.88 370 965.2 374.67 965.5 380C965.8 385.33 966.05 391.17 966.3 397C966.55 402.83 966.72 407.5 967 415C967.28 422.5 967.78 431.17 968 442C968.22 452.83 968.25 473.67 968.3 480" fill="none" stroke="#000" stroke-width="1.6" stroke-linejoin="round" stroke-linecap="round"/></g><path d="M78.5 442.5v4.86M301.5 442.5v4.86M525.5 442.5v4.86M748.5 442.5v4.86M972.5 442.5v4.86M78.5 37.5h-4.86M78.5 138.5h-4.86M78.5 240.5h-4.86M78.5 341.5h-4.86M78.5 442.5h-4.86" stroke="#000" stroke-width="1.11" fill="none"/><path d="M145.5 442.5v2.78M185.5 442.5v2.78M213.5 442.5v2.78M234.5 442.5v2.78M252.5 442.5v2.78M267.5 442.5v2.78M280.5 442.5v2.78M291.5 442.5v2.78M369.5 442.5v2.78M408.5 442.5v2.78M436.5 442.5v2.78M458.5 442.5v2.78M475.5 442.5v2.78M490.5 442.5v2.78M503.5 442.5v2.78M515.5 442.5v2.78M592.5 442.5v2.78M631.5 442.5v2.78M659.5 442.5v2.78M681.5 442.5v2.78M699.5 442.5v2.78M714.5 442.5v2.78M727.5 442.5v2.78M738.5 442.5v2.78M815.5 442.5v2.78M855.5 442.5v2.78M883.5 442.5v2.78M904.5 442.5v2.78M922.5 442.5v2.78M937.5 442.5v2.78M950.5 442.5v2.78M961.5 442.5v2.78M78.5 412.5h-2.78M78.5 394.5h-2.78M78.5 381.5h-2.78M78.5 371.5h-2.78M78.5 363.5h-2.78M78.5 356.5h-2.78M78.5 351.5h-2.78M78.5 345.5h-2.78M78.5 310.5h-2.78M78.5 293.5h-2.78M78.5 280.5h-2.78M78.5 270.5h-2.78M78.5 262.5h-2.78M78.5 255.5h-2.78M78.5 249.5h-2.78M78.5 244.5h-2.78M78.5 209.5h-2.78M78.5 191.5h-2.78M78.5 179.5h-2.78M78.5 169.5h-2.78M78.5 161.5h-2.78M78.5 154.5h-2.78M78.5 148.5h-2.78M78.5 143.5h-2.78M78.5 108.5h-2.78M78.5 90.5h-2.78M78.5 77.5h-2.78M78.5 68.5h-2.78M78.5 60.5h-2.78M78.5 53.5h-2.78M78.5 47.5h-2.78M78.5 42.5h-2.78" stroke="#000" stroke-width="0.83" fill="none"/><rect x="78.5" y="37.5" width="894" height="405" fill="none" stroke="#000" stroke-width="1.11"/></svg><span class="t" id="t1" style="left:288.45px;top:14.5px;font-size:17.7px;transform:scale(1.0509,1.0000);">Generalised</span><span class="t" id="t2" style="left:393.39px;top:14.5px;font-size:17.7px;transform:scale(1.0719,1.0000);">Lomb-Scargle</span><span class="t" id="t3" style="left:513.66px;top:14.5px;font-size:17.7px;transform:scale(1.0691,1.0000);">periodogram</span><span class="t" id="t4" style="left:624.88px;top:14.5px;font-size:17.7px;transform:scale(1.0929,1.0000);">of</span><span class="t" id="t5" style="left:646.7px;top:14.5px;font-size:17.7px;transform:scale(0.9072,1.0000);">ASCC</span><span class="t" id="t6" style="left:696.44px;top:14.5px;font-size:17.7px;transform:scale(1.0568,1.0000);">245937</span><span class="t" id="xl1" style="left:478.27px;top:469.6px;font-size:14.55px;transform:scale(1.0642,1.0000);">Period</span><span class="t" id="xl2" style="left:527.1px;top:469.6px;font-size:14.55px;transform:scale(1.1013,1.0000);">(days)</span><span class="t" id="x0" style="left:63.39px;top:449.8px;font-size:14.55px;transform:scale(1.0165,1.0000);">0.01</span><span class="t" id="x1" style="left:291.09px;top:449.8px;font-size:14.55px;transform:scale(1.0158,1.0000);">0.1</span><span class="t" id="x2" style="left:521.28px;top:449.8px;font-size:14.55px;transform:scale(1.0154,1.0000);">1</span><span class="t" id="x3" style="left:740.39px;top:449.8px;font-size:14.55px;transform:scale(1.0069,1.0000);">10</span><span class="t" id="x4" style="left:959.21px;top:449.8px;font-size:14.55px;transform:scale(1.0440,1.0000);">100</span><span class="t" id="y0" style="left:44.18px;top:31.7px;font-size:14.55px;transform:scale(1.0207,1.0000);">10</span><span class="t" id="y1" style="left:36.39px;top:132.7px;font-size:14.55px;transform:scale(1.0069,1.0000);">10</span><span class="t" id="y2" style="left:36.39px;top:233.7px;font-size:14.55px;transform:scale(1.0069,1.0000);">10</span><span class="t" id="y3" style="left:36.39px;top:334.7px;font-size:14.55px;transform:scale(1.0069,1.0000);">10</span><span class="t" id="y4" style="left:36.39px;top:436.7px;font-size:14.55px;transform:scale(1.0069,1.0000);">10</span><span class="t" id="s0" style="left:60.66px;top:29.7px;font-size:11.3px;transform:scale(1.0857,1.0000);">0</span><span class="t" id="s1" style="left:61.14px;top:130.8px;font-size:11.3px;transform:scale(0.8800,1.0000);">1</span><span class="t" id="s2" style="left:61.16px;top:231.8px;font-size:11.3px;transform:scale(0.8762,1.0000);">2</span><span class="t" id="s3" style="left:61.14px;top:332.7px;font-size:11.3px;transform:scale(0.9143,1.0000);">3</span><span class="t" id="s4" style="left:60.97px;top:434.7px;font-size:11.3px;transform:scale(0.9391,1.0000);">4</span><span class="t" id="m1" style="left:53.24px;top:131.05px;font-size:11.3px;transform:scale(1.1273,1.0000);">−</span><span class="t" id="m2" style="left:53.24px;top:232.15px;font-size:11.3px;transform:scale(1.1273,1.0000);">−</span><span class="t" id="m3" style="left:53.24px;top:333.15px;font-size:11.3px;transform:scale(1.1273,1.0000);">−</span><span class="t" id="m4" style="left:53.24px;top:435.05px;font-size:11.3px;transform:scale(1.1273,1.0000);">−</span><span class="t" id="yl" style="left:14.45px;top:262.96px;font-size:14.55px;transform:rotate(-90deg) scale(1.0113,1.0000);">Power</span></body></html>
